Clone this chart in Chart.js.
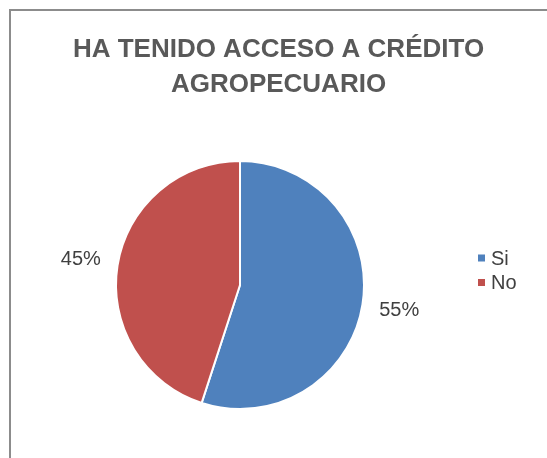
<!DOCTYPE html>
<html>
<head>
<meta charset="utf-8">
<script src="https://cdn.jsdelivr.net/npm/chart.js@4/dist/chart.umd.min.js"></script>
<style>
  html, body { margin: 0; padding: 0; background: #fff; }
  #wrap { width: 547px; height: 458px; }
</style>
</head>
<body>
<div id="wrap"><canvas id="c" width="547" height="458"></canvas></div>
<script>
const titleLines = ["HA TENIDO ACCESO A CRÉDITO", "AGROPECUARIO"];
const categories = ["Si", "No"];
const values = [55, 45];
const sliceColors = ["#4F81BD", "#C0504D"];

const FONT = "'Liberation Sans', Arial, 'DejaVu Sans', sans-serif";
const TEXT_COLOR = '#404040';

// white background + grey frame like the spreadsheet chart border
const frame = {
  id: 'frame',
  beforeDraw(chart) {
    const ctx = chart.ctx;
    ctx.save();
    ctx.fillStyle = '#ffffff';
    ctx.fillRect(0, 0, chart.width, chart.height);
    ctx.strokeStyle = '#8c8c8c';
    ctx.lineWidth = 2;
    ctx.strokeRect(10, 10, 700, 700);
    ctx.restore();
  }
};

// legend drawn inside a right-hand layout box reserved through Chart.js layouts
const sideLegend = {
  id: 'sideLegend',
  beforeInit(chart) {
    const box = {
      position: 'right',
      weight: 1000,
      fullSize: false,
      options: {},
      top: 0, left: 0, right: 0, bottom: 0, width: 0, height: 0,
      update(maxWidth, maxHeight) {
        this.width = 77;
        this.height = maxHeight;
      },
      isHorizontal() { return false; },
      draw() {
        const ctx = chart.ctx;
        const area = chart.chartArea;
        const cy = (area.top + area.bottom) / 2;
        ctx.save();
        ctx.font = '20px ' + FONT;
        ctx.textBaseline = 'middle';
        ctx.textAlign = 'left';
        categories.forEach((label, i) => {
          const y = cy - 27 + i * 24.5;
          const x = this.left + 8;
          ctx.fillStyle = sliceColors[i];
          ctx.fillRect(x, y - 3.5, 7, 7);
          ctx.fillStyle = TEXT_COLOR;
          ctx.fillText(label, x + 13, y + 1);
        });
        ctx.restore();
      }
    };
    Chart.layouts.addBox(chart, box);
  }
};

const outLabels = {
  id: 'outLabels',
  afterDatasetsDraw(chart) {
    const ctx = chart.ctx;
    const meta = chart.getDatasetMeta(0);
    const total = values.reduce((a, b) => a + b, 0);
    ctx.save();
    ctx.font = '20px ' + FONT;
    ctx.fillStyle = TEXT_COLOR;
    ctx.textAlign = 'center';
    ctx.textBaseline = 'middle';
    meta.data.forEach((arc, i) => {
      const p = arc.getProps(['x', 'y', 'startAngle', 'endAngle', 'outerRadius'], true);
      const mid = (p.startAngle + p.endAngle) / 2;
      const r = p.outerRadius * 1.3;
      const txt = Math.round(values[i] / total * 100) + '%';
      ctx.fillText(txt, p.x + Math.cos(mid) * r, p.y + Math.sin(mid) * r);
    });
    ctx.restore();
  }
};

new Chart(document.getElementById('c'), {
  type: 'pie',
  data: {
    labels: categories,
    datasets: [{
      data: values,
      backgroundColor: sliceColors,
      borderColor: '#ffffff',
      borderWidth: 2
    }]
  },
  options: {
    responsive: false,
    animation: false,
    layout: { padding: { left: 10, right: 0, top: 0, bottom: 48 } },
    plugins: {
      title: {
        display: true,
        text: titleLines,
        color: '#595959',
        font: { family: FONT, size: 26, weight: 'bold', lineHeight: 1.346 },
        padding: { top: 32, bottom: 58 }
      },
      legend: { display: false },
      tooltip: { enabled: false }
    }
  },
  plugins: [frame, sideLegend, outLabels]
});
</script>
</body>
</html>
